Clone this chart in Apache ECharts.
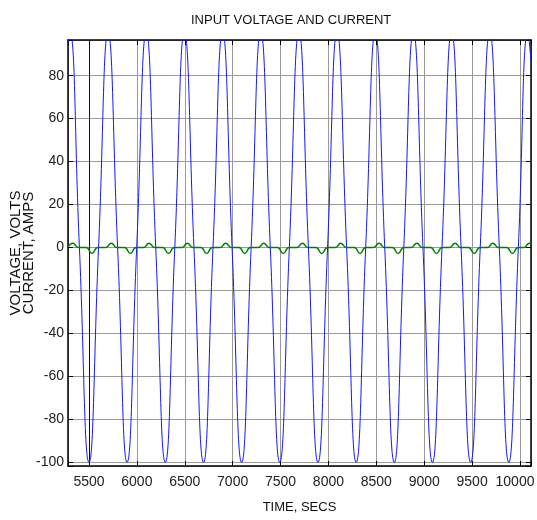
<!DOCTYPE html>
<html>
<head>
<meta charset="utf-8">
<title>Input voltage and current</title>
<script src="https://cdn.jsdelivr.net/npm/echarts@6/dist/echarts.min.js"></script>
<style>
  html, body { margin: 0; padding: 0; background: #fff; }
  #chart { width: 537px; height: 520px; }
</style>
</head>
<body>
<div id="chart"></div>
<script>
// axis limits
const timeRange = [5281, 10115];
const ampRange = [-101.7, 96.6];

// input voltage: edge, peaks, zero crossings, troughs (secs / volts)
const voltTimes = [5281, 5301, 5400, 5500, 5600, 5699, 5799, 5898, 5998, 6098,
  6197, 6297, 6396, 6496, 6596, 6696, 6795, 6895, 6994, 7094,
  7193, 7293, 7393, 7492, 7592, 7692, 7791, 7891, 7991, 8090,
  8190, 8290, 8389, 8489, 8588, 8688, 8787, 8887, 8987, 9086,
  9186, 9286, 9385, 9485, 9585, 9684, 9784, 9883, 9983, 10083, 10115];
const voltValues = [95, 100, 0, -100, 0, 100, 0, -100, 0, 100,
  0, -100, 0, 100, 0, -100, 0, 100, 0, -100,
  0, 100, 0, -100, 0, 100, 0, -100, 0, 100,
  0, -100, 0, 100, 0, -100, 0, 100, 0, -100,
  0, 100, 0, -100, 0, 100, 0, -100, 0, 100, 87];

// input current (secs / amps)
const currTimes = [5281, 5332, 5392, 5471, 5531, 5591, 5673, 5733, 5793, 5872,
  5932, 5992, 6067, 6127, 6187, 6270, 6330, 6390, 6468, 6528,
  6588, 6668, 6728, 6788, 6868, 6928, 6988, 7066, 7126, 7186,
  7265, 7325, 7385, 7468, 7528, 7588, 7668, 7728, 7788, 7870,
  7930, 7990, 8069, 8129, 8189, 8270, 8330, 8390, 8468, 8528,
  8588, 8667, 8727, 8787, 8862, 8922, 8982, 9068, 9128, 9188,
  9262, 9322, 9382, 9462, 9522, 9582, 9657, 9717, 9777, 9861,
  9921, 9981, 10038, 10098, 10115];
const currValues = [0.3, 2, 0, 0, -2.8, 0, 0, 2, 0, 0,
  -2.8, 0, 0, 2, 0, 0, -2.8, 0, 0, 2,
  0, 0, -2.8, 0, 0, 2, 0, 0, -2.8, 0,
  0, 2, 0, 0, -2.8, 0, 0, 2, 0, 0,
  -2.8, 0, 0, 2, 0, 0, -2.8, 0, 0, 2,
  0, 0, -2.8, 0, 0, 2, 0, 0, -2.8, 0,
  0, 2, 0, 0, -2.8, 0, 0, 2, 0, 0,
  -2.8, 0, 0, 2, 1.6];

const sans = "'Liberation Sans', Arial, sans-serif";
const gridGrey = '#9a9a9a';
const boxLine = { show: true, onZero: false, lineStyle: { color: '#000', width: 1.5 } };
const innerTick = { show: true, inside: true, length: 5, lineStyle: { color: '#000' } };
// first line sits on the left border, second is the dark 5500 line
const vGridColors = [gridGrey, '#111', gridGrey, gridGrey, gridGrey, gridGrey, gridGrey,
  gridGrey, gridGrey, gridGrey, gridGrey, gridGrey, gridGrey];

let myChart = echarts.init(document.getElementById('chart'), null, { renderer: 'canvas' });

let option = {
  animation: false,
  backgroundColor: '#fff',
  title: {
    text: 'INPUT VOLTAGE AND CURRENT',
    left: 186,
    top: 9,
    textStyle: { fontFamily: sans, fontSize: 13, fontWeight: 'normal', color: '#111' }
  },
  grid: { left: 68, right: 6, top: 40, bottom: 54, containLabel: false, outerBoundsMode: 'none' },
  xAxis: [
    {
      type: 'value',
      position: 'bottom',
      min: timeRange[0],
      max: timeRange[1],
      splitNumber: 10,
      axisLine: boxLine,
      axisTick: innerTick,
      axisLabel: {
        color: '#222', fontFamily: sans, fontSize: 14, margin: 9,
        formatter: v => {
          if (v % 500 !== 0) return '';
          return v === 10000 ? '{edge|10000}' : String(v);
        },
        rich: {
          edge: { fontFamily: sans, fontSize: 14, color: '#222', padding: [0, 10, 0, 0] }
        }
      },
      splitLine: { show: true, lineStyle: { color: vGridColors, width: 1 } },
      name: 'TIME, SECS',
      nameLocation: 'middle',
      nameGap: 35,
      nameMoveOverlap: false,
      nameTextStyle: { fontFamily: sans, fontSize: 13, color: '#111' }
    },
    {
      type: 'value',
      position: 'top',
      min: timeRange[0],
      max: timeRange[1],
      splitNumber: 10,
      axisLine: boxLine,
      axisTick: innerTick,
      axisLabel: { show: false },
      splitLine: { show: false }
    }
  ],
  yAxis: [
    {
      type: 'value',
      position: 'left',
      min: ampRange[0],
      max: ampRange[1],
      splitNumber: 10,
      axisLine: boxLine,
      axisTick: innerTick,
      axisLabel: {
        color: '#222', fontFamily: sans, fontSize: 14, margin: 4,
        formatter: v => (v % 20 === 0 ? String(v) : '')
      },
      splitLine: { show: true, lineStyle: { color: gridGrey, width: 1 } },
      name: 'VOLTAGE, VOLTS\nCURRENT, AMPS',
      nameLocation: 'middle',
      nameRotate: 90,
      nameGap: 33,
      nameMoveOverlap: false,
      nameTextStyle: { fontFamily: sans, fontSize: 15, lineHeight: 13, color: '#111' }
    },
    {
      type: 'value',
      position: 'right',
      min: ampRange[0],
      max: ampRange[1],
      splitNumber: 10,
      axisLine: boxLine,
      axisTick: innerTick,
      axisLabel: { show: false },
      splitLine: { show: false }
    }
  ],
  series: [
    {
      name: 'Voltage',
      type: 'line',
      data: voltTimes.map((t, i) => [t, voltValues[i]]),
      showSymbol: false,
      smooth: true,
      clip: true,
      lineStyle: { color: '#1515ff', width: 1 },
      z: 2
    },
    {
      name: 'Current',
      type: 'line',
      data: currTimes.map((t, i) => [t, currValues[i]]),
      showSymbol: false,
      smooth: true,
      clip: true,
      lineStyle: { color: '#008000', width: 1.5 },
      z: 3
    }
  ]
};

myChart.setOption(option);
</script>
</body>
</html>
